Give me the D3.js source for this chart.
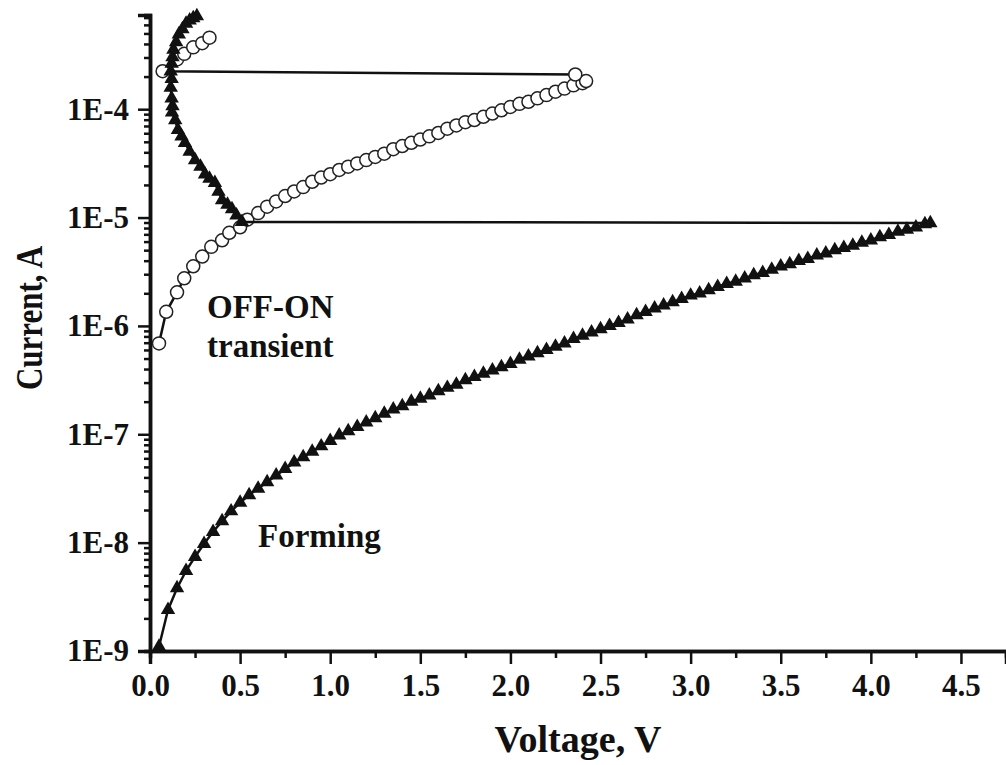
<!DOCTYPE html>
<html>
<head>
<meta charset="utf-8">
<script src="https://cdn.jsdelivr.net/npm/d3@7"></script>
<style>
  body { margin: 0; background: #fff; }
  text { font-family: "Liberation Serif", "Times New Roman", serif; font-weight: bold; fill: #111; }
</style>
</head>
<body>
<div class="bigboard"></div>
<script>
// forming sweep (filled triangles): voltage, current
var formingV = [0.05,0.10,0.15,0.20,0.25,0.30,0.35,0.40,0.45,0.50,0.55,0.60,0.65,0.70,0.75,0.80,0.85,0.90,0.95,1.00,
  1.05,1.10,1.15,1.20,1.25,1.30,1.35,1.40,1.45,1.50,1.55,1.60,1.65,1.70,1.75,1.80,1.85,1.90,1.95,2.00,
  2.05,2.10,2.15,2.20,2.25,2.30,2.35,2.40,2.45,2.50,2.55,2.60,2.65,2.70,2.75,2.80,2.85,2.90,2.95,3.00,
  3.05,3.10,3.15,3.20,3.25,3.30,3.35,3.40,3.45,3.50,3.55,3.60,3.65,3.70,3.75,3.80,3.85,3.90,3.95,4.00,
  4.05,4.10,4.15,4.20,4.25,4.30,4.33,
  // back to low voltage, ON branch
  0.51,0.48,0.455,0.43,0.40,0.38,0.36,0.33,0.305,0.28,0.25,0.22,0.194,0.175,0.155,0.14,0.122,0.125,0.12,0.115,
  0.12,0.115,0.12,0.125,0.13,0.145,0.16,0.18,0.20,0.22,0.24,0.26];
var formingI = [1.10e-9,2.40e-9,3.80e-9,5.50e-9,7.41e-9,9.77e-9,1.26e-8,1.58e-8,1.95e-8,2.34e-8,2.75e-8,3.16e-8,3.63e-8,4.17e-8,4.79e-8,5.50e-8,6.17e-8,6.92e-8,7.76e-8,8.71e-8,
  9.77e-8,1.07e-7,1.17e-7,1.29e-7,1.41e-7,1.55e-7,1.70e-7,1.82e-7,2.00e-7,2.14e-7,2.29e-7,2.51e-7,2.69e-7,2.88e-7,3.16e-7,3.39e-7,3.63e-7,3.89e-7,4.17e-7,4.47e-7,
  4.90e-7,5.25e-7,5.62e-7,6.03e-7,6.46e-7,6.92e-7,7.59e-7,8.13e-7,8.71e-7,9.33e-7,1.00e-6,1.07e-6,1.15e-6,1.26e-6,1.35e-6,1.45e-6,1.55e-6,1.66e-6,1.78e-6,1.91e-6,
  2.00e-6,2.14e-6,2.29e-6,2.45e-6,2.57e-6,2.75e-6,2.95e-6,3.09e-6,3.31e-6,3.55e-6,3.72e-6,3.98e-6,4.17e-6,4.47e-6,4.68e-6,5.01e-6,5.25e-6,5.50e-6,5.89e-6,6.17e-6,
  6.61e-6,6.92e-6,7.41e-6,7.76e-6,8.13e-6,8.71e-6,8.91e-6,
  9.12e-6,1.05e-5,1.20e-5,1.32e-5,1.45e-5,1.74e-5,2.09e-5,2.29e-5,2.51e-5,2.95e-5,3.39e-5,4.07e-5,4.90e-5,5.62e-5,6.46e-5,7.94e-5,9.33e-5,1.07e-4,1.26e-4,1.58e-4,
  1.91e-4,2.24e-4,2.63e-4,3.02e-4,3.55e-4,4.17e-4,4.90e-4,5.50e-4,6.17e-4,6.61e-4,6.92e-4,7.24e-4];

// OFF-ON transient (open circles)
var transientV = [0.05,0.09,0.15,0.19,0.24,0.29,0.34,0.40,0.44,0.50,0.54,0.60,0.65,0.70,0.75,0.80,0.85,0.90,0.95,1.00,
  1.05,1.10,1.15,1.20,1.25,1.30,1.35,1.40,1.45,1.50,1.55,1.60,1.65,1.70,1.75,1.80,1.85,1.90,1.95,2.00,
  2.05,2.10,2.15,2.20,2.25,2.30,2.35,2.40,2.42,2.36,
  0.07,0.15,0.19,0.24,0.29,0.33];
var transientI = [6.9e-7,1.35e-6,2.04e-6,2.75e-6,3.55e-6,4.37e-6,5.37e-6,6.17e-6,7.24e-6,8.13e-6,9.55e-6,1.10e-5,1.26e-5,1.41e-5,1.58e-5,1.74e-5,1.91e-5,2.14e-5,2.34e-5,2.51e-5,
  2.75e-5,2.95e-5,3.16e-5,3.39e-5,3.63e-5,3.89e-5,4.27e-5,4.57e-5,4.90e-5,5.25e-5,5.62e-5,6.03e-5,6.61e-5,7.08e-5,7.59e-5,7.94e-5,8.51e-5,9.12e-5,9.77e-5,1.05e-4,
  1.12e-4,1.17e-4,1.26e-4,1.35e-4,1.45e-4,1.55e-4,1.66e-4,1.74e-4,1.82e-4,2.09e-4,
  2.24e-4,2.88e-4,3.24e-4,3.72e-4,4.07e-4,4.57e-4];

var xTicks = [0,0.5,1.0,1.5,2.0,2.5,3.0,3.5,4.0,4.5];
var xTickLabels = ["0.0","0.5","1.0","1.5","2.0","2.5","3.0","3.5","4.0","4.5"];
var xMinorTicks = [0.25,0.75,1.25,1.75,2.25,2.75,3.25,3.75,4.25,4.75];
var yTicks = [1e-9,1e-8,1e-7,1e-6,1e-5,1e-4];
var yTickLabels = ["1E-9","1E-8","1E-7","1E-6","1E-5","1E-4"];
var yMantissa = [2,3,4,5,6,7,8,9];

var annotations = [["OFF-ON",207,318],["transient",207,357],["Forming",258,547]];

var width = 1006, height = 765;
var plotLeft = 150, plotRight = 1006, plotTop = 15, plotBottom = 651;

var x = d3.scaleLinear().domain([0,4.75]).range([plotLeft,plotRight]);
var y = d3.scaleLog().domain([1e-9,7.4e-4]).range([plotBottom,plotTop]);

var svg = d3.select('.bigboard').append('svg')
  .attr('width', width)
  .attr('height', height)

var forming = formingV.map(function(v,i){ return [v, formingI[i]] })
var transient = transientV.map(function(v,i){ return [v, transientI[i]] })

var line = d3.line()
  .x(function(d){ return x(d[0]) })
  .y(function(d){ return y(d[1]) })

// minor ticks on the log axis
var yMinor = [];
yTicks.forEach(function(t){
  yMantissa.forEach(function(m){
    if( t * m < y.domain()[1] ) yMinor.push(t * m);
  })
})

var axisX = d3.axisBottom(x).tickValues(xTicks)
  .tickFormat(function(d,i){ return xTickLabels[i] })
  .tickSize(13).tickPadding(10)

var axisXMinor = d3.axisBottom(x).tickValues(xMinorTicks).tickFormat('').tickSize(7)

var axisY = d3.axisLeft(y).tickValues(yTicks)
  .tickFormat(function(d,i){ return yTickLabels[i] })
  .tickSize(12).tickPadding(9)

var axisYMinor = d3.axisLeft(y).tickValues(yMinor).tickFormat('').tickSize(6)

var gx = svg.append('g').attr('transform', 'translate(0,' + plotBottom + ')').call(axisX)
svg.append('g').attr('transform', 'translate(0,' + plotBottom + ')').call(axisXMinor)
var gy = svg.append('g').attr('transform', 'translate(' + plotLeft + ',0)').call(axisY)
svg.append('g').attr('transform', 'translate(' + plotLeft + ',0)').call(axisYMinor)

svg.selectAll('.domain')
  .attr('stroke', '#111')
  .attr('stroke-width', 3.5)
svg.selectAll('.tick line')
  .attr('stroke', '#111')
  .attr('stroke-width', 2.5)
svg.selectAll('.tick text')
  .attr('font-size', '31px')
  .attr('font-family', 'Liberation Serif')
  .attr('font-weight', 'bold')
  .attr('fill', '#111')

// transient series
svg.append('path')
  .datum(transient)
  .attr('d', line)
  .attr('fill', 'none')
  .attr('stroke', '#111')
  .attr('stroke-width', 2.5)

svg.selectAll('.circ')
  .data(transient).enter().append('circle')
  .attr('class', 'circ')
  .attr('cx', function(d){ return x(d[0]) })
  .attr('cy', function(d){ return y(d[1]) })
  .attr('r', 6.5)
  .attr('fill', 'white')
  .attr('stroke', '#222')
  .attr('stroke-width', 1.5)

// forming series
svg.append('path')
  .datum(forming)
  .attr('d', line)
  .attr('fill', 'none')
  .attr('stroke', '#111')
  .attr('stroke-width', 2.5)

svg.selectAll('.tri')
  .data(forming).enter().append('path')
  .attr('class', 'tri')
  .attr('d', d3.symbol(d3.symbolTriangle).size(90))
  .attr('transform', function(d){ return 'translate(' + x(d[0]) + ',' + y(d[1]) + ')' })
  .attr('fill', '#111')

svg.selectAll('.note')
  .data(annotations).enter().append('text')
  .attr('class', 'note')
  .attr('x', function(d){ return d[1] })
  .attr('y', function(d){ return d[2] })
  .attr('font-size', '33px')
  .text(function(d){ return d[0] })

svg.append('text')
  .attr('x', (plotLeft + plotRight) / 2)
  .attr('y', 752)
  .attr('text-anchor', 'middle')
  .attr('font-size', '38px')
  .text('Voltage, V')

// the source picture is slightly stretched sideways, so the rotated title is widened too
svg.append('text')
  .attr('transform', 'translate(42,318) rotate(-90) scale(1,1.2)')
  .attr('text-anchor', 'middle')
  .attr('font-size', '31px')
  .text('Current, A')
</script>
</body>
</html>
